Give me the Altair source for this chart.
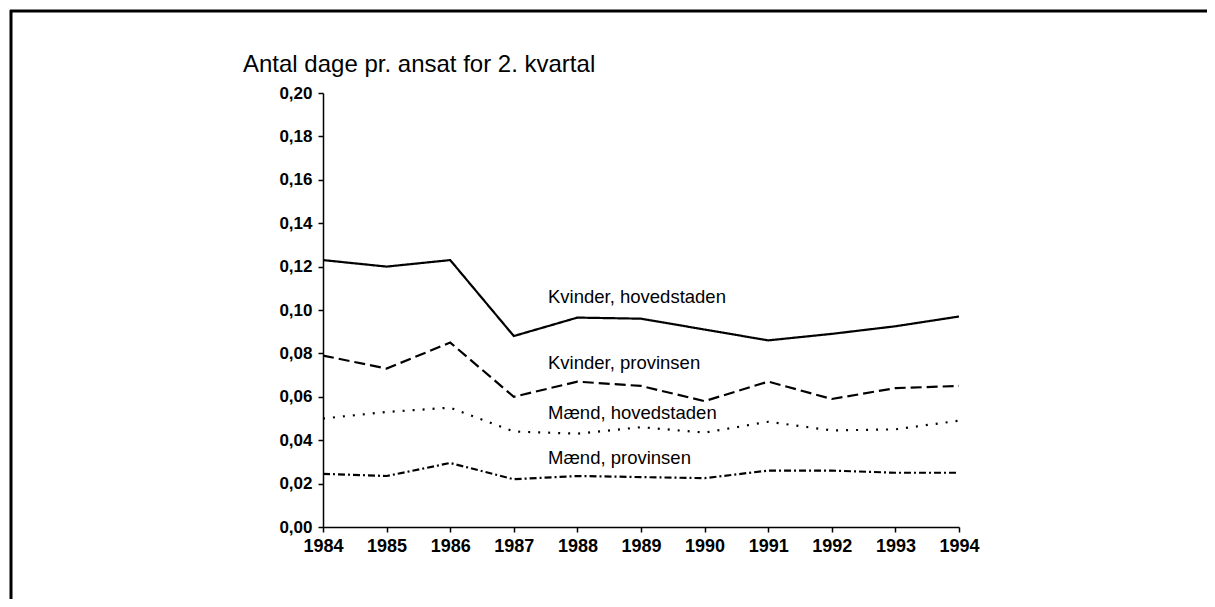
import altair as alt
import pandas as pd

years = [1984, 1985, 1986, 1987, 1988, 1989, 1990, 1991, 1992, 1993, 1994]
kvinder_hoved = [0.123, 0.120, 0.123, 0.088, 0.0965, 0.096, 0.091, 0.086, 0.089, 0.0925, 0.097]
kvinder_prov = [0.079, 0.073, 0.085, 0.060, 0.067, 0.065, 0.058, 0.067, 0.059, 0.064, 0.065]
maend_hoved = [0.050, 0.053, 0.055, 0.044, 0.043, 0.046, 0.0435, 0.0485, 0.0445, 0.045, 0.049]
maend_prov = [0.0245, 0.0235, 0.0295, 0.022, 0.0235, 0.023, 0.0225, 0.026, 0.026, 0.025, 0.025]
y_ticks = [0.0, 0.02, 0.04, 0.06, 0.08, 0.10, 0.12, 0.14, 0.16, 0.18, 0.20]

series_names = ["Kvinder, hovedstaden", "Kvinder, provinsen", "Mænd, hovedstaden", "Mænd, provinsen"]
series_values = [kvinder_hoved, kvinder_prov, maend_hoved, maend_prov]
title_text = "Antal dage pr. ansat for 2. kvartal"

dashes = [[1, 0], [11, 5], [2, 8], [7, 3, 2, 3]]
label_y = [204, 270, 320, 365]

FONT = "Liberation Sans"
W, H = 636, 434

xs = alt.Scale(domain=[1984, 1994], nice=False, zero=False)
ys = alt.Scale(domain=[0, 0.2], nice=False)
x_axis = alt.Axis(values=years, format="d", title=None, grid=False,
                  labelFontSize=18, labelFontWeight="bold", labelPadding=5, labelFlush=False)
y_axis = alt.Axis(values=y_ticks, title=None, grid=False,
                  labelExpr="replace(format(datum.value, '.2f'), '.', ',')",
                  labelFontSize=17, labelFontWeight="bold", labelPadding=6)

layers = []
for i, (name, vals) in enumerate(zip(series_names, series_values)):
    df = pd.DataFrame({"year": years, "value": vals, "series": name})
    layers.append(
        alt.Chart(df).mark_line(color="black", strokeWidth=2.2, strokeDash=dashes[i]).encode(
            x=alt.X("year:Q", scale=xs, axis=x_axis),
            y=alt.Y("value:Q", scale=ys, axis=y_axis),
        )
    )

for name, ly in zip(series_names, label_y):
    layers.append(
        alt.Chart(pd.DataFrame({"label": [name]})).mark_text(
            align="left", baseline="middle", font=FONT, fontSize=18.5, color="black"
        ).encode(text="label:N", x=alt.value(225), y=alt.value(ly))
    )

layers.append(
    alt.Chart(pd.DataFrame({"label": [title_text]})).mark_text(
        align="left", baseline="alphabetic", font=FONT, fontSize=24, color="black"
    ).encode(text="label:N", x=alt.value(-80), y=alt.value(-21))
)

frame = pd.DataFrame({"k": [0]})
top_line = alt.Chart(frame).mark_rule(color="black", strokeWidth=3, strokeCap="butt").encode(
    x=alt.value(-313), x2=alt.value(884), y=alt.value(-82), y2=alt.value(-82))
left_line = alt.Chart(frame).mark_rule(color="black", strokeWidth=3, strokeCap="butt").encode(
    x=alt.value(-312), x2=alt.value(-312), y=alt.value(-83), y2=alt.value(506))
layers += [top_line, left_line]

chart = alt.layer(*layers).properties(
    width=W, height=H,
    autosize=alt.AutoSizeParams(type="none"),
    padding={"left": 315, "top": 85, "right": 248, "bottom": 72},
).configure_view(stroke=None).configure_axis(
    domainColor="black", domainWidth=1.5, tickColor="black", tickWidth=1.5, tickSize=5,
    labelColor="black", labelFont=FONT,
)

chart.save("out.html", embed_options={"renderer": "svg", "actions": False})
